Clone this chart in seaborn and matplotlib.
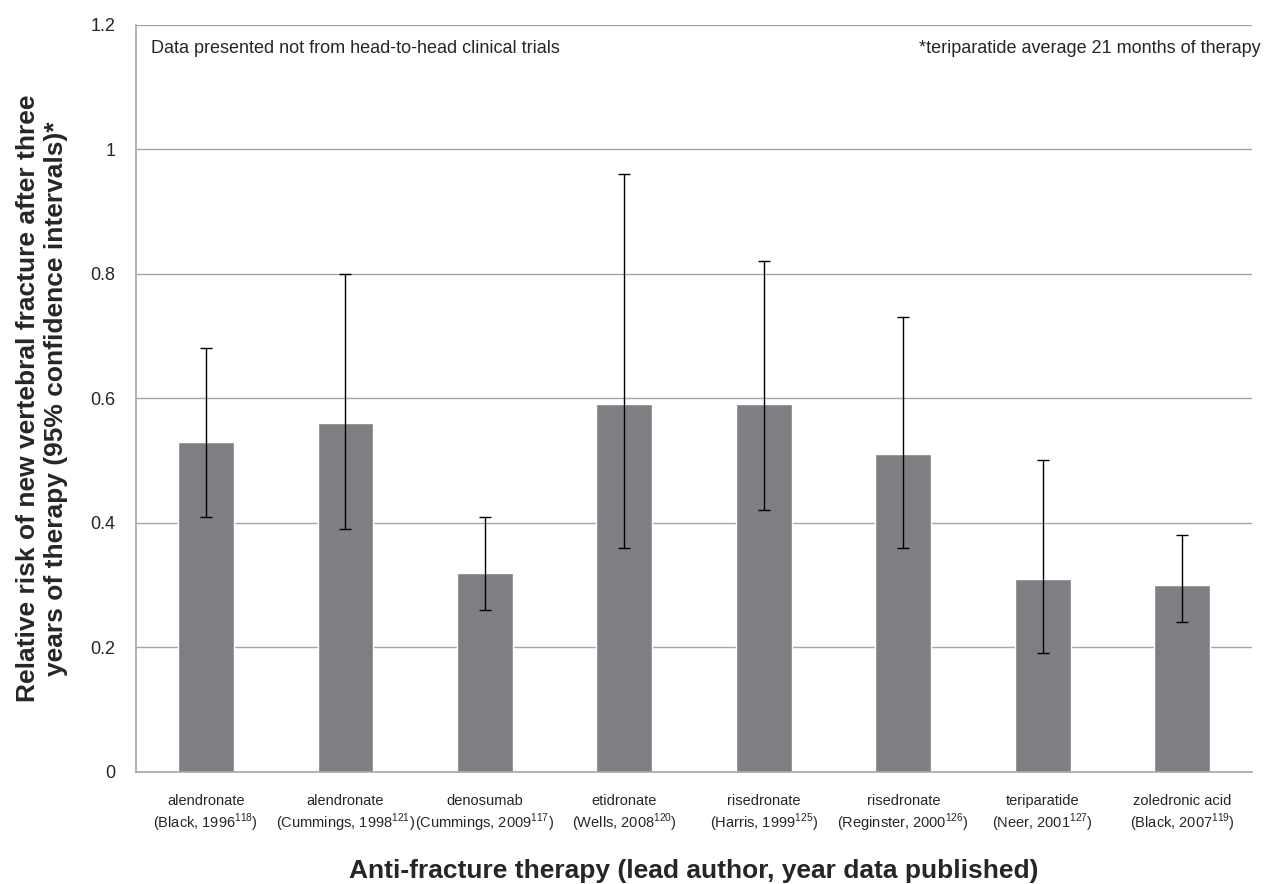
import matplotlib
matplotlib.use("Agg")
import matplotlib.pyplot as plt
import seaborn as sns
import numpy as np
import pandas as pd

drugs = ["alendronate", "alendronate", "denosumab", "etidronate",
         "risedronate", "risedronate", "teriparatide", "zoledronic acid"]
studies = ["Black, 1996", "Cummings, 1998", "Cummings, 2009", "Wells, 2008",
           "Harris, 1999", "Reginster, 2000", "Neer, 2001", "Black, 2007"]
refs = ["118", "121", "117", "120", "125", "126", "127", "119"]
risk = [0.53, 0.56, 0.32, 0.59, 0.59, 0.51, 0.31, 0.30]
ci_low = [0.41, 0.39, 0.26, 0.36, 0.42, 0.36, 0.19, 0.24]
ci_high = [0.68, 0.80, 0.41, 0.96, 0.82, 0.73, 0.50, 0.38]

labels = [f"{d}\n({s}$^{{\\mathregular{{{r}}}}}$)" for d, s, r in zip(drugs, studies, refs)]
df = pd.DataFrame({"label": labels, "risk": risk})

sns.set_style("white")
plt.rcParams['font.family'] = ['Liberation Sans', 'DejaVu Sans']
plt.rcParams['mathtext.fontset'] = 'custom'
plt.rcParams['mathtext.rm'] = 'Liberation Sans'

fig, ax = plt.subplots(figsize=(12.73, 8.84), dpi=100)
fig.subplots_adjust(left=0.107, right=0.9835, top=0.972, bottom=0.127)

sns.barplot(data=df, x="label", y="risk", color="#7f7f83", width=0.4,
            saturation=1, ax=ax, zorder=2)

x = np.arange(len(risk))
yerr = [np.array(risk) - np.array(ci_low), np.array(ci_high) - np.array(risk)]
ax.errorbar(x, risk, yerr=yerr, fmt="none", ecolor="black", elinewidth=1,
            capsize=4, capthick=1, zorder=3)

ax.set_xlim(-0.5, len(risk) - 0.5)
ax.set_ylim(0, 1.2)
ax.set_yticks([0, 0.2, 0.4, 0.6, 0.8, 1.0, 1.2])
ax.set_yticklabels(["0", "0.2", "0.4", "0.6", "0.8", "1", "1.2"], fontsize=13)
ax.tick_params(axis="x", labelsize=10.5, length=0, pad=16)
ax.tick_params(axis="y", length=6, width=1, color="#a6a6a6", pad=9,
               direction="out")
ax.yaxis.grid(True, color="#a6a6a6", linewidth=1, zorder=0)
ax.set_axisbelow(True)
for side in ["right", "top"]:
    ax.spines[side].set_visible(False)
for side in ["left", "bottom"]:
    ax.spines[side].set_color("#a6a6a6")
    ax.spines[side].set_linewidth(1.2)

ax.set_xlabel("Anti-fracture therapy (lead author, year data published)",
              fontsize=19, fontweight="bold", labelpad=18)
ax.set_ylabel("Relative risk of new vertebral fracture after three\nyears of therapy (95% confidence intervals)*",
              fontsize=19, fontweight="bold", labelpad=16)

fig.text(0.119, 0.945, "Data presented not from head-to-head clinical trials",
         fontsize=13, ha="left", va="center")
fig.text(0.990, 0.945, "*teriparatide average 21 months of therapy",
         fontsize=13, ha="right", va="center")

fig.savefig("out.png", dpi=100)
